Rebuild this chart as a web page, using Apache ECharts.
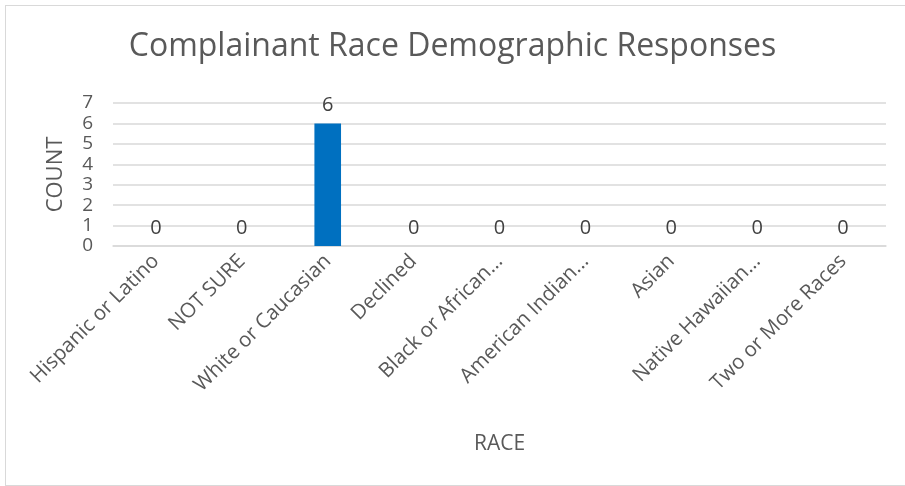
<!DOCTYPE html>
<html><head><meta charset="utf-8">
<script src="https://cdn.jsdelivr.net/npm/echarts@6/dist/echarts.min.js"></script>
<style>
html,body{margin:0;padding:0;background:#fff;}
#frame{position:absolute;left:5px;top:5px;width:905px;height:481px;border:1px solid #d9d9d9;box-sizing:border-box;}
#c{position:absolute;left:0;top:0;width:905px;height:486px;}
</style></head>
<body>
<div id="frame"></div>
<div id="c"></div>
<script>
const categories = ["Hispanic or Latino","NOT SURE","White or Caucasian","Declined","Black or African...","American Indian...","Asian","Native Hawaiian...","Two or More Races"];
const counts = [0,0,6,0,0,0,0,0,0];
const yTicks = [0,1,2,3,4,5,6,7];
const fontFam = '"Open Sans", "Noto Sans", sans-serif';
const chart = echarts.init(document.getElementById('c'), null, {renderer:'canvas'});
chart.setOption({
  animation:false,
  title:{text:'Complainant Race Demographic Responses',left:'center',top:26,
    textStyle:{fontFamily:fontFam,fontSize:32,fontWeight:'normal',color:'#595959'}},
  grid:{left:113,right:19,top:103,bottom:240,containLabel:false},
  xAxis:{type:'category',data:categories,
    name:'RACE',nameLocation:'middle',nameGap:188,
    nameTextStyle:{fontFamily:fontFam,fontSize:21,color:'#595959'},
    axisLine:{show:true,lineStyle:{color:'#d9d9d9',width:1.5}},
    axisTick:{show:false},
    axisLabel:{rotate:45,interval:0,margin:12,fontFamily:fontFam,fontSize:20.5,color:'#595959'}},
  yAxis:{type:'value',min:yTicks[0],max:yTicks[yTicks.length-1],interval:1,
    name:'COUNT',nameLocation:'middle',nameGap:46,nameRotate:90,
    nameTextStyle:{fontFamily:fontFam,fontSize:22,color:'#595959'},
    axisLine:{show:false},axisTick:{show:false},
    axisLabel:{margin:20,fontFamily:fontFam,fontSize:19,color:'#595959'},
    splitLine:{lineStyle:{color:'#d9d9d9',width:1.5}}},
  series:[{type:'bar',data:counts,barWidth:'31%',
    itemStyle:{color:'#0070C0'},
    label:{show:true,position:'top',distance:8,fontFamily:fontFam,fontSize:20,color:'#404040'}}]
});
</script>
</body></html>
